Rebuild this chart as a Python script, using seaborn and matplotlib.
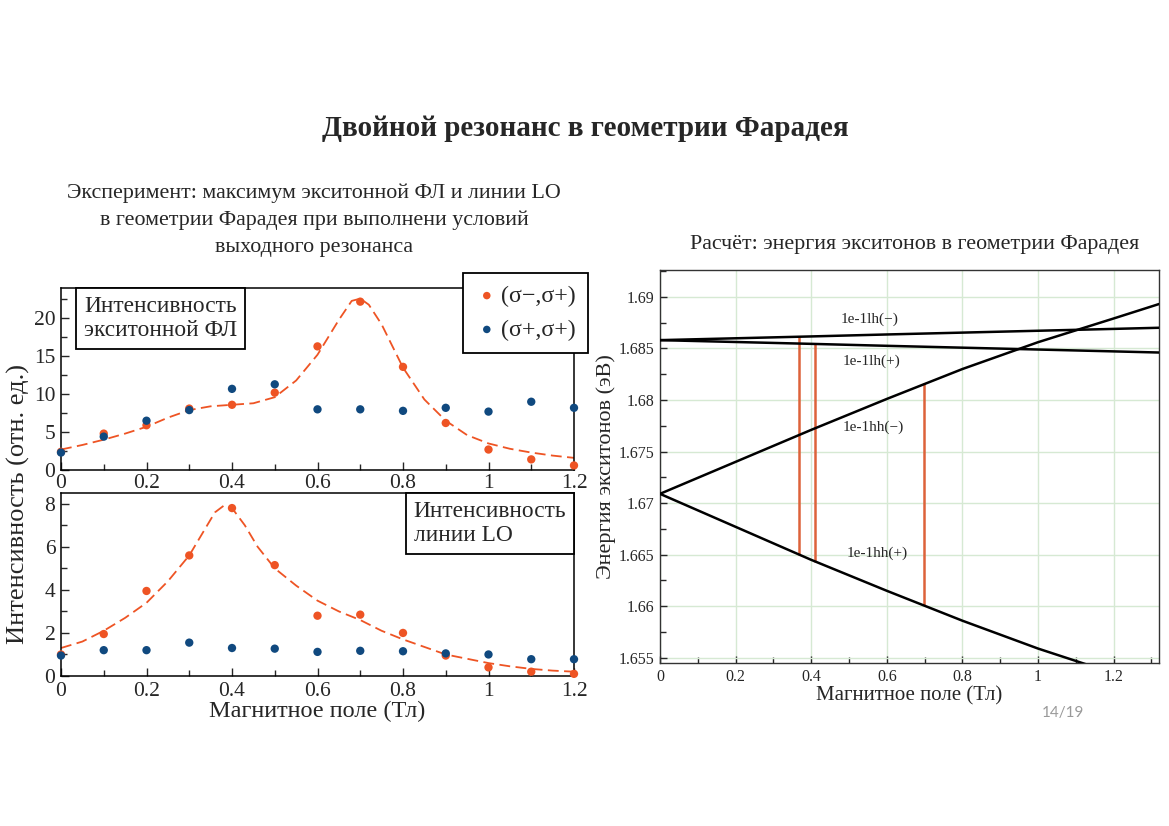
import numpy as np
import pandas as pd
import matplotlib
matplotlib.use("Agg")
import matplotlib.pyplot as plt
from matplotlib.ticker import MultipleLocator
import seaborn as sns

# ---------------- data ----------------
field = [0.0, 0.1, 0.2, 0.3, 0.4, 0.5, 0.6, 0.7, 0.8, 0.9, 1.0, 1.1, 1.2]
fl_sigma_minus = [2.4, 4.8, 5.9, 8.1, 8.6, 10.2, 16.3, 22.2, 13.6, 6.2, 2.7, 1.4, 0.6]
fl_sigma_plus = [2.3, 4.4, 6.5, 7.9, 10.7, 11.3, 8.0, 8.0, 7.8, 8.2, 7.7, 9.0, 8.2]
lo_sigma_minus = [1.0, 1.95, 3.95, 5.6, 7.8, 5.15, 2.8, 2.85, 2.0, 0.95, 0.4, 0.2, 0.1]
lo_sigma_plus = [0.95, 1.2, 1.2, 1.55, 1.3, 1.27, 1.12, 1.17, 1.15, 1.05, 1.0, 0.78, 0.78]

fl_fit_field = [0.0, 0.05, 0.1, 0.15, 0.2, 0.25, 0.3, 0.35, 0.4, 0.45, 0.5, 0.55, 0.6,
                0.65, 0.68, 0.7, 0.72, 0.75, 0.8, 0.85, 0.9, 0.95, 1.0, 1.05, 1.1, 1.15, 1.2]
fl_fit = [2.7, 3.3, 4.0, 4.8, 5.7, 6.9, 7.9, 8.4, 8.6, 8.8, 9.6, 11.8, 15.2,
          19.8, 22.3, 22.6, 21.8, 19.2, 13.5, 9.3, 6.5, 4.6, 3.5, 2.8, 2.3, 1.9, 1.6]
lo_fit_field = [0.0, 0.05, 0.1, 0.15, 0.2, 0.25, 0.3, 0.33, 0.36, 0.38, 0.4, 0.43, 0.46,
                0.5, 0.55, 0.6, 0.65, 0.7, 0.75, 0.8, 0.85, 0.9, 0.95, 1.0, 1.05, 1.1, 1.15, 1.2]
lo_fit = [1.3, 1.6, 2.1, 2.7, 3.4, 4.4, 5.6, 6.6, 7.6, 7.9, 7.8, 7.0, 6.0,
          5.0, 4.2, 3.5, 3.0, 2.6, 2.1, 1.7, 1.35, 1.0, 0.8, 0.6, 0.45, 0.33, 0.25, 0.2]

calc_field = [0.0, 0.2, 0.4, 0.6, 0.8, 1.0, 1.2, 1.32]
e_lh_minus = [1.6858, 1.68598, 1.68616, 1.68635, 1.68653, 1.68671, 1.68689, 1.6870]
e_lh_plus = [1.6858, 1.68562, 1.68544, 1.68525, 1.68507, 1.68489, 1.68471, 1.6846]
e_hh_minus = [1.6709, 1.6740, 1.6771, 1.6801, 1.6830, 1.6856, 1.6879, 1.6893]
e_hh_plus = [1.6709, 1.6677, 1.6645, 1.6615, 1.6586, 1.6559, 1.6535, 1.6519]

resonance_field = [0.367, 0.411, 0.699]
resonance_low = [1.6650, 1.6643, 1.6601]
resonance_high = [1.6862, 1.6855, 1.6816]

level_labels = ["1e-1lh(\u2212)", "1e-1lh(+)", "1e-1hh(\u2212)", "1e-1hh(+)"]
label_field = [0.477, 0.482, 0.482, 0.495]
label_energy = [1.6878, 1.6838, 1.6774, 1.6651]

# ---------------- style ----------------
sns.set_theme(style="ticks")
plt.rcParams['font.family'] = ['Liberation Serif', 'DejaVu Serif']

ORANGE = "#EE5424"
BLUE = "#10497F"
RED = "#DD623A"
GRID = "#D6E9D3"

W, H = 1169, 826
fig = plt.figure(figsize=(W / 100, H / 100), dpi=100)
fig.patch.set_facecolor("white")


def px_axes(left, top, right, bottom):
    return fig.add_axes([left / W, 1 - bottom / H, (right - left) / W, (bottom - top) / H])


# titles
fig.text(585 / W, 1 - 128 / H, "Двойной резонанс в геометрии Фарадея",
         ha="center", va="center", fontsize=21, fontweight="bold")
fig.text(314 / W, 1 - 220 / H,
         "Эксперимент: максимум экситонной ФЛ и линии LO\n"
         "в геометрии Фарадея при выполнени условий\n"
         "выходного резонанса",
         ha="center", va="center", fontsize=15.8, linespacing=1.55)
fig.text(915 / W, 1 - 245 / H, "Расчёт: энергия экситонов в геометрии Фарадея",
         ha="center", va="center", fontsize=15.8)

BOX = dict(boxstyle="square,pad=0.35", fc="white", ec="black", lw=1.3)

# ---------------- left top ----------------
ax1 = px_axes(61, 288, 574, 470)
fl_fit_df = pd.DataFrame({"B": fl_fit_field, "I": fl_fit})
sns.lineplot(data=fl_fit_df, x="B", y="I", ax=ax1, color=ORANGE, lw=1.3,
             linestyle=(0, (6, 3)), sort=False, estimator=None, zorder=2)
sns.scatterplot(x=field, y=fl_sigma_minus, ax=ax1, color=ORANGE, s=36,
                edgecolor="none", label="(σ\u2212,σ+)", zorder=3, clip_on=False)
sns.scatterplot(x=field, y=fl_sigma_plus, ax=ax1, color=BLUE, s=36,
                edgecolor="none", label="(σ+,σ+)", zorder=3, clip_on=False)
ax1.set_xlim(0, 1.2)
ax1.set_ylim(0, 24)
ax1.yaxis.set_major_locator(MultipleLocator(5))
ax1.yaxis.set_minor_locator(MultipleLocator(2.5))
ax1.set_xlabel("")
ax1.set_ylabel("")
leg = ax1.legend(loc="upper right", bbox_to_anchor=(1.027, 1.082), borderaxespad=0,
                 fancybox=False, framealpha=1, edgecolor="black", fontsize=17.3,
                 handletextpad=0.1, borderpad=0.5, labelspacing=0.5, markerscale=0.9,
                 handlelength=1.0)
leg.get_frame().set_linewidth(1.3)
ax1.text(0.045, 0.955, "Интенсивность\nэкситонной ФЛ", transform=ax1.transAxes,
         ha="left", va="top", fontsize=16.8, linespacing=1.15, bbox=BOX, zorder=5)

# ---------------- left bottom ----------------
ax2 = px_axes(61, 493, 574, 676)
lo_fit_df = pd.DataFrame({"B": lo_fit_field, "I": lo_fit})
sns.lineplot(data=lo_fit_df, x="B", y="I", ax=ax2, color=ORANGE, lw=1.3,
             linestyle=(0, (6, 3)), sort=False, estimator=None, zorder=2)
sns.scatterplot(x=field, y=lo_sigma_minus, ax=ax2, color=ORANGE, s=36,
                edgecolor="none", zorder=3, clip_on=False, legend=False)
sns.scatterplot(x=field, y=lo_sigma_plus, ax=ax2, color=BLUE, s=36,
                edgecolor="none", zorder=3, clip_on=False, legend=False)
ax2.set_xlim(0, 1.2)
ax2.set_ylim(0, 8.5)
ax2.yaxis.set_major_locator(MultipleLocator(2))
ax2.yaxis.set_minor_locator(MultipleLocator(1))
ax2.set_xlabel("Магнитное поле (Тл)", fontsize=17.5, labelpad=0)
ax2.set_ylabel("")
ax2.text(0.985, 0.955, "Интенсивность\nлинии LO", transform=ax2.transAxes,
         ha="right", va="top", multialignment="left", fontsize=16.8,
         linespacing=1.15, bbox=BOX, zorder=5)

for ax in (ax1, ax2):
    ax.xaxis.set_major_locator(MultipleLocator(0.2))
    ax.xaxis.set_minor_locator(MultipleLocator(0.1))
    ax.xaxis.set_major_formatter(plt.FuncFormatter(lambda v, p: f"{v:g}"))
    ax.tick_params(which="both", direction="in", labelsize=15.5, width=1.0, pad=4,
                   top=False, right=False)
    ax.tick_params(which="major", length=6)
    ax.tick_params(which="minor", length=4)
    for s in ax.spines.values():
        s.set_visible(True)
        s.set_linewidth(1.1)
        s.set_color("black")
ax1.tick_params(axis="x", pad=3)

fig.text(18 / W, 1 - 504 / H, "Интенсивность (отн. ед.)", rotation=90,
         ha="center", va="center", fontsize=19)

# ---------------- right ----------------
ax3 = px_axes(660, 270, 1159, 663)
calc = pd.DataFrame({
    "B": calc_field * 4,
    "E": e_lh_minus + e_lh_plus + e_hh_minus + e_hh_plus,
    "level": sum([[n] * len(calc_field) for n in level_labels], []),
})
sns.lineplot(data=calc, x="B", y="E", units="level", estimator=None, ax=ax3,
             color="black", lw=1.8, sort=False, zorder=3)
ax3.vlines(resonance_field, resonance_low, resonance_high, color=RED, lw=1.8, zorder=2)
for lab, bx, ey in zip(level_labels, label_field, label_energy):
    ax3.text(bx, ey, lab, ha="left", va="center", fontsize=11)
ax3.set_xlim(0, 1.32)
ax3.set_ylim(1.6545, 1.6926)
ax3.xaxis.set_major_locator(MultipleLocator(0.2))
ax3.xaxis.set_minor_locator(MultipleLocator(0.1))
ax3.yaxis.set_major_locator(MultipleLocator(0.005))
ax3.yaxis.set_minor_locator(MultipleLocator(0.0025))
ax3.xaxis.set_major_formatter(plt.FuncFormatter(lambda v, p: f"{v:g}"))
ax3.yaxis.set_major_formatter(plt.FuncFormatter(lambda v, p: f"{v:g}"))
ax3.grid(True, which="major", color=GRID, lw=1.0)
ax3.set_axisbelow(True)
ax3.tick_params(which="both", direction="in", labelsize=11.5, width=1.0, pad=4,
                top=False, right=False)
ax3.tick_params(which="major", length=5)
ax3.tick_params(which="minor", length=4)
for s in ax3.spines.values():
    s.set_visible(True)
    s.set_linewidth(1.0)
    s.set_color("#333333")
ax3.set_xlabel("Магнитное поле (Тл)", fontsize=15, labelpad=1)
ax3.set_ylabel("Энергия экситонов (эВ)", fontsize=16, labelpad=2)

fig.text(1063 / W, 1 - 713 / H, "14/19", ha="center", va="center", fontsize=11,
         color="#9A9A9A", family=["Lato", "DejaVu Sans"])

fig.savefig("out.png", dpi=100, facecolor="white")
